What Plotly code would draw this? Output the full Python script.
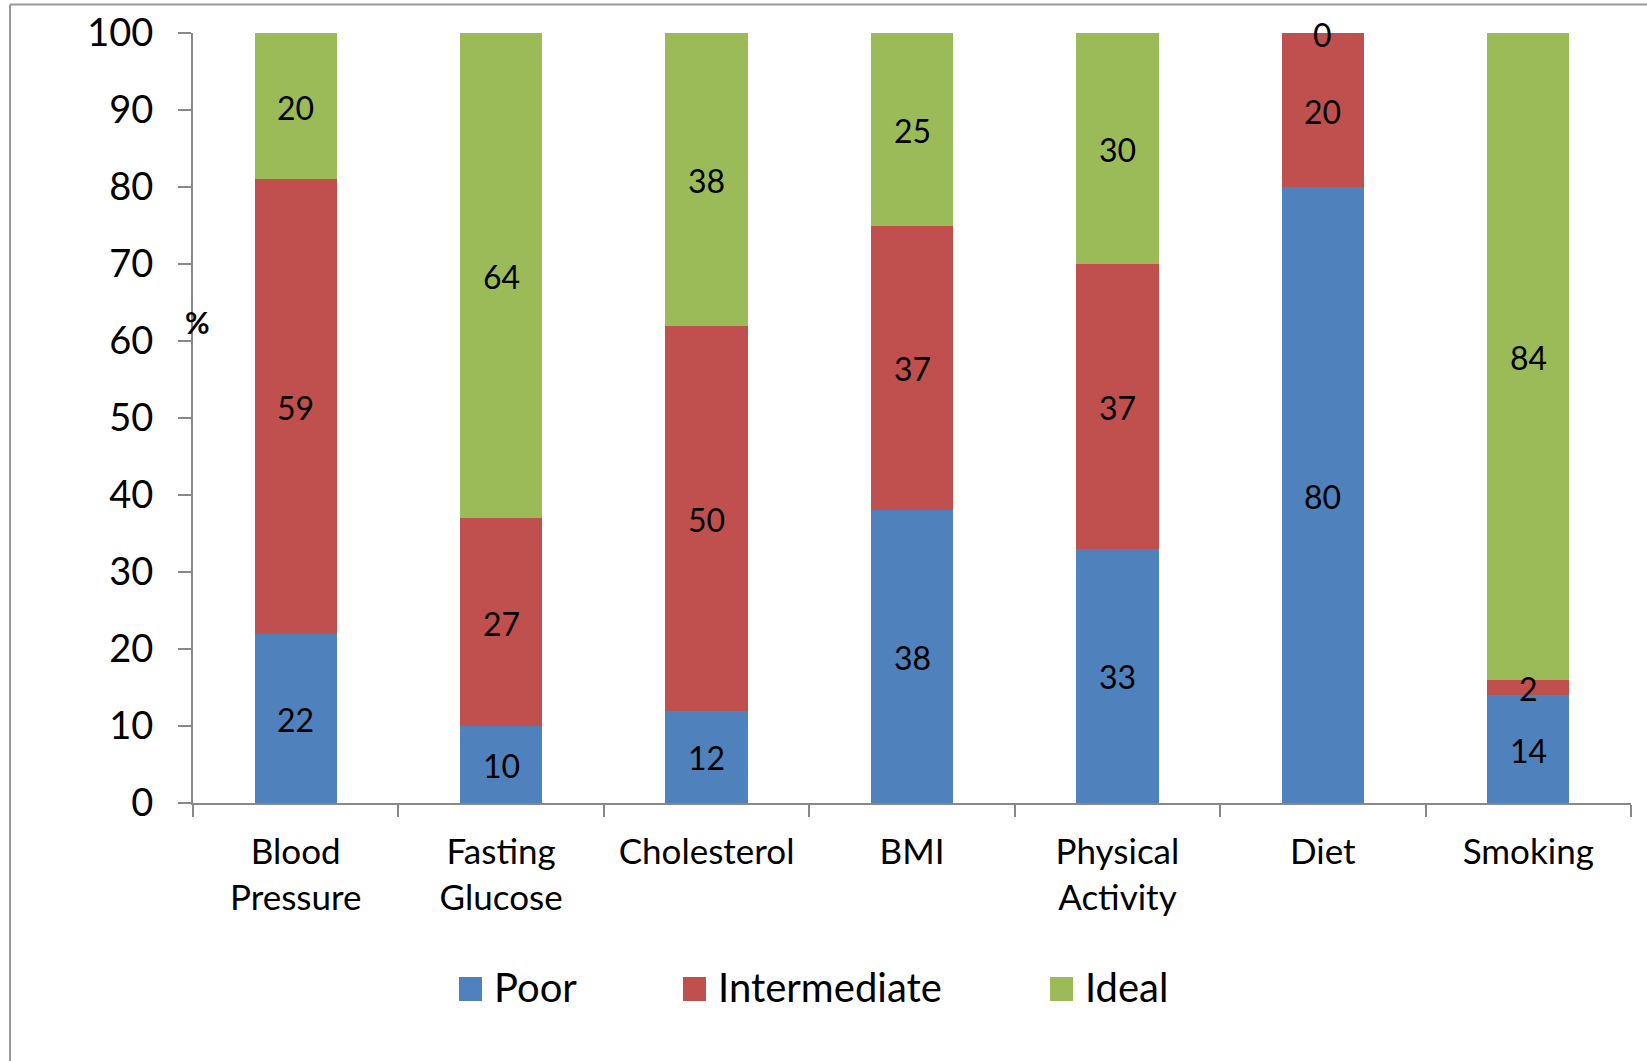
import plotly.graph_objects as go

# Cardiovascular health metrics: share of people in each category (%)
metrics = ["Blood<br>Pressure", "Fasting<br>Glucose", "Cholesterol", "BMI",
           "Physical<br>Activity", "Diet", "Smoking"]
poor = [22, 10, 12, 38, 33, 80, 14]
intermediate = [59, 27, 50, 37, 37, 20, 2]
ideal = [20, 64, 38, 25, 30, 0, 84]

series_names = ["Poor", "Intermediate", "Ideal"]
series_values = [poor, intermediate, ideal]
series_colors = ["#4F81BD", "#C0504D", "#9BBB59"]

y_ticks = [0, 10, 20, 30, 40, 50, 60, 70, 80, 90, 100]
y_max = 100

FONT = "Lato"
AXIS_COLOR = "#888888"

W, H = 1647, 1061
M_L, M_R, M_T, M_B = 193, 16, 33, 258
plot_w = W - M_L - M_R
plot_h = H - M_T - M_B


def px_to_paper_x(px):
    return (px - M_L) / plot_w


def px_to_paper_y(py):
    return (H - M_B - py) / plot_h


fig = go.Figure()

# stacked bars
for name, vals, col in zip(series_names, series_values, series_colors):
    fig.add_trace(go.Bar(
        x=metrics, y=vals, name=name, width=0.4,
        marker=dict(color=col, line=dict(width=0)),
        showlegend=False, hoverinfo="skip",
    ))

annotations = []

# value labels centred on each visible segment
base = [0] * len(metrics)
for vals in series_values:
    for i, v in enumerate(vals):
        lo = min(base[i], y_max)
        hi = min(base[i] + v, y_max)
        annotations.append(dict(
            xref="x", yref="y", x=metrics[i], y=(lo + hi) / 2,
            text=str(v), showarrow=False, xanchor="center", yanchor="middle",
            yshift=-1, font=dict(family=FONT, size=32, color="black"),
        ))
        base[i] += v

# legend drawn as swatches + labels below the plot
legend_swatch_left = [459, 683, 1050]
legend_y = 989
shapes = []
for name, col, sx in zip(series_names, series_colors, legend_swatch_left):
    shapes.append(dict(
        type="rect", xref="paper", yref="paper",
        x0=px_to_paper_x(sx), x1=px_to_paper_x(sx + 23),
        y0=px_to_paper_y(legend_y + 12), y1=px_to_paper_y(legend_y - 12),
        fillcolor=col, line=dict(width=0),
    ))
    annotations.append(dict(
        xref="paper", yref="paper", x=px_to_paper_x(sx + 33), y=px_to_paper_y(legend_y - 2),
        text=name, showarrow=False, xanchor="left", yanchor="middle",
        font=dict(family=FONT, size=40, color="black"),
    ))

# outer chart frame (left and top edges)
frame_color = "#999999"
shapes.append(dict(type="line", xref="paper", yref="paper",
                   x0=px_to_paper_x(10), x1=px_to_paper_x(10),
                   y0=px_to_paper_y(4.5), y1=px_to_paper_y(H + 20),
                   line=dict(color=frame_color, width=2)))
shapes.append(dict(type="line", xref="paper", yref="paper",
                   x0=px_to_paper_x(10), x1=px_to_paper_x(W + 20),
                   y0=px_to_paper_y(4.5), y1=px_to_paper_y(4.5),
                   line=dict(color=frame_color, width=2)))

# axis unit label
annotations.append(dict(
    xref="paper", yref="paper", x=px_to_paper_x(197), y=px_to_paper_y(322),
    text="<b>%</b>", showarrow=False, xanchor="center", yanchor="middle",
    font=dict(family=FONT, size=30, color="black"),
))

fig.update_layout(
    barmode="stack",
    width=W, height=H,
    margin=dict(l=M_L, r=M_R, t=M_T, b=M_B, pad=0, autoexpand=False),
    paper_bgcolor="white", plot_bgcolor="white",
    shapes=shapes, annotations=annotations,
    showlegend=False,
    xaxis=dict(
        type="category", range=[-0.5, len(metrics) - 0.5],
        automargin=False,
        showline=True, linecolor=AXIS_COLOR, linewidth=2,
        ticks="outside", tickson="boundaries", ticklen=12, tickwidth=2,
        tickcolor=AXIS_COLOR, showgrid=False, zeroline=False,
        tickfont=dict(family=FONT, size=35, color="black"),
        ticklabelstandoff=17,
    ),
    yaxis=dict(
        range=[0, y_max], tickvals=y_ticks,
        automargin=False,
        showline=True, linecolor=AXIS_COLOR, linewidth=2,
        ticks="outside", ticklen=13, tickwidth=2, tickcolor=AXIS_COLOR,
        showgrid=False, zeroline=False,
        tickfont=dict(family=FONT, size=38, color="black"),
        ticklabelstandoff=17,
    ),
)

fig.write_html("out.html")
